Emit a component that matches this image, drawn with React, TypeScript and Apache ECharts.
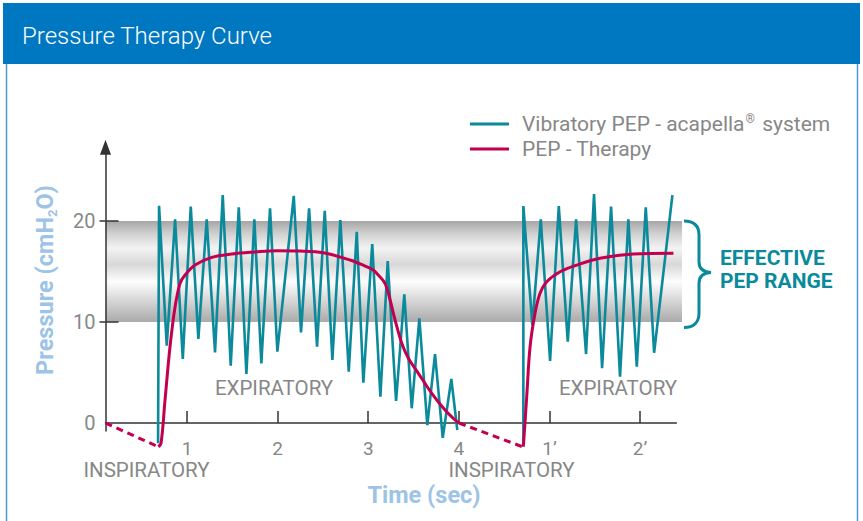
import React, { useEffect, useRef } from "react";
import * as echarts from "echarts";

const TEAL = "#0a8a9b";
const CRIMSON = "#c2004f";
const GRAY_TEXT = "#878787";
const AXIS_COLOR = "#333333";
const LIGHT_BLUE = "#9dc3e6";
const FONT = "Roboto, 'Noto Sans', sans-serif";

const TEAL_NAME = "Vibratory PEP - acapella® system";
const PEP_NAME = "PEP - Therapy";

const xTickValues = [1, 2, 3, 4, 5, 6];
const xTickLabels = ["1", "2", "3", "4", "1’", "2’"];
const yTickLabelValues = [0, 10, 20];
const yTickValues = [10, 20];
const effectiveRange = [10, 20];

const vibratoryCycle1: [number, number][] = [
  [0.68, -2.0], [0.691, 21.5], [0.776, 7.65], [0.868, 20.17], [0.953, 6.34],
  [1.041, 21.42], [1.125, 8.32], [1.217, 20.17], [1.309, 7.0], [1.394, 22.57],
  [1.482, 5.67], [1.571, 21.36], [1.655, 4.85], [1.743, 20.17], [1.82, 5.91],
  [1.916, 21.26], [1.997, 7.06], [2.178, 22.5], [2.258, 8.98], [2.347, 21.26],
  [2.435, 7.55], [2.52, 21.02], [2.604, 6.24], [2.692, 20.1], [2.785, 5.08],
  [2.873, 18.94], [2.946, 3.99], [3.044, 17.72], [3.134, 2.6], [3.215, 16.04],
  [3.307, 2.18], [3.398, 12.74], [3.48, 1.46], [3.564, 10.37], [3.652, -0.2],
  [3.737, 6.83], [3.822, -1.46], [3.917, 4.36], [3.983, -0.69],
];

const vibratoryCycle2: [number, number][] = [
  [4.712, -1.98], [4.712, 21.49], [4.811, 9.7], [4.904, 20.17], [5.007, 6.14],
  [5.103, 21.49], [5.202, 8.05], [5.294, 20.17], [5.404, 6.83], [5.492, 22.67],
  [5.581, 5.42], [5.68, 21.42], [5.779, 4.58], [5.871, 20.17], [5.964, 5.57],
  [6.063, 21.36], [6.155, 6.96], [6.357, 22.57],
];

const pepCycle1: [number, number][] = [
  [0.683, -2.35], [0.713, -2.0], [0.757, 2.28], [0.812, 7.55], [0.868, 11.51],
  [0.923, 13.83], [0.978, 14.65], [1.088, 15.64], [1.273, 16.4], [1.493, 16.73],
  [1.751, 16.93], [1.99, 17.06], [2.247, 17.03], [2.504, 16.86], [2.799, 16.14],
  [2.965, 15.54], [3.056, 15.15], [3.111, 14.65], [3.185, 13.83], [3.241, 12.18],
  [3.296, 10.2], [3.37, 7.89], [3.443, 6.41], [3.553, 4.92], [3.701, 2.94],
  [3.848, 1.29], [3.958, 0.3], [4.002, 0],
];

const pepCycle2: [number, number][] = [
  [4.712, -2.35], [4.749, 2.6], [4.786, 7.55], [4.841, 10.86], [4.896, 12.84],
  [4.97, 13.99], [5.117, 14.98], [5.301, 15.64], [5.558, 16.31], [5.926, 16.73],
  [6.368, 16.8],
];

const inspiratory1: [number, number][] = [[0.1, 0], [0.683, -2.35]];
const inspiratory2: [number, number][] = [[4.002, 0], [4.712, -2.38]];

const BRACE_PATH =
  "M0,0 C10,0 15,5 15,14 L15,41 C15,47 19,51 27,51.5 C19,52 15,56 15,62 L15,92 C15,101 10,106.5 0,106.5";

let braceRegistered = false;
function registerBrace() {
  if (braceRegistered) return;
  echarts.graphic.registerShape("brace", echarts.graphic.extendPath(BRACE_PATH, {}));
  braceRegistered = true;
}

const Y_MIN = -0.8;
const Y_MAX = 27.3;
const X_MIN = 0.1;
const X_MAX = 6.4;
const BAND_X_MAX = 6.46;

export default function App() {
  const ref = useRef<HTMLDivElement>(null);

  useEffect(() => {
    if (!ref.current) return;
    registerBrace();
    const chart = echarts.init(ref.current, undefined, { renderer: "svg" });

    const bandGradient = {
      type: "linear",
      x: 0,
      y: 0,
      x2: 0,
      y2: 1,
      colorStops: [
        { offset: 0, color: "#a6a6a6" },
        { offset: 0.13, color: "#d2d2d2" },
        { offset: 0.27, color: "#f3f3f3" },
        { offset: 0.43, color: "#d8d8d8" },
        { offset: 0.6, color: "#fdfdfd" },
        { offset: 0.8, color: "#d4d4d4" },
        { offset: 1, color: "#aaaaaa" },
      ],
    };

    const lineBase = {
      type: "line",
      showSymbol: false,
      symbol: "none",
      clip: false,
      xAxisIndex: 0,
      yAxisIndex: 0,
    };

    const phaseText = (text: string, x: number, y: number) => ({
      type: "text",
      z: 11,
      x,
      y,
      style: {
        text,
        fill: GRAY_TEXT,
        fontSize: 20.5,
        lineHeight: 20,
        fontFamily: FONT,
        align: "center",
        verticalAlign: "middle",
      },
    });

    const option: any = {
      animation: false,
      backgroundColor: "#ffffff",
      textStyle: { fontFamily: FONT },
      grid: [
        { left: 105.5, top: 147.3, width: 570.8, height: 283.8 },
        { left: 105.5, top: 147.3, width: 576.5, height: 283.8 },
      ],
      legend: {
        data: [TEAL_NAME, PEP_NAME],
        orient: "vertical",
        left: 470,
        top: 113,
        padding: 0,
        icon: "rect",
        itemWidth: 39,
        itemHeight: 3,
        itemGap: 4,
        selectedMode: false,
        formatter: (name: string) =>
          name === TEAL_NAME
            ? "{a|Vibratory PEP - acapella}{r|®}{a| system}"
            : "{a|" + name + "}",
        textStyle: {
          padding: [0, 0, 0, 8],
          rich: {
            a: { fontSize: 21, color: GRAY_TEXT, fontFamily: FONT, lineHeight: 20 },
            r: { fontSize: 12, color: GRAY_TEXT, fontFamily: FONT, padding: [0, 2, 10, 1] },
          },
        },
      },
      xAxis: [
        {
          type: "value",
          gridIndex: 0,
          min: X_MIN,
          max: X_MAX,
          z: 1,
          axisLine: { show: true, onZero: true, lineStyle: { color: AXIS_COLOR, width: 1.5 } },
          axisTick: {
            show: true,
            inside: true,
            length: 12,
            customValues: xTickValues,
            lineStyle: { color: AXIS_COLOR, width: 1.5 },
          },
          axisLabel: {
            customValues: xTickValues,
            formatter: (v: number) => xTickLabels[xTickValues.indexOf(Math.round(v))] ?? "",
            color: GRAY_TEXT,
            fontSize: 19,
            lineHeight: 17,
            fontFamily: FONT,
            margin: 9,
          },
          splitLine: { show: false },
        },
        { type: "value", gridIndex: 1, min: X_MIN, max: BAND_X_MAX, show: false },
      ],
      yAxis: [
        {
          type: "value",
          gridIndex: 0,
          position: "left",
          min: Y_MIN,
          max: Y_MAX,
          z: 1,
          axisLine: {
            show: true,
            onZero: false,
            symbol: ["none", "triangle"],
            symbolSize: [11, 15],
            lineStyle: { color: AXIS_COLOR, width: 1.5 },
          },
          axisTick: {
            show: true,
            inside: true,
            length: 13,
            customValues: yTickValues,
            lineStyle: { color: AXIS_COLOR, width: 1.5 },
          },
          axisLabel: {
            customValues: yTickLabelValues,
            color: GRAY_TEXT,
            fontSize: 20,
            fontFamily: FONT,
            margin: 10,
          },
          splitLine: { show: false },
        },
        {
          type: "value",
          gridIndex: 0,
          position: "left",
          min: Y_MIN,
          max: Y_MAX,
          z: 1,
          axisLine: { show: false, onZero: false },
          axisTick: {
            show: true,
            inside: false,
            length: 6,
            customValues: yTickValues,
            lineStyle: { color: AXIS_COLOR, width: 1.5 },
          },
          axisLabel: { show: false },
          splitLine: { show: false },
        },
        { type: "value", gridIndex: 1, min: Y_MIN, max: Y_MAX, show: false },
      ],
      series: [
        {
          type: "line",
          name: "band",
          xAxisIndex: 1,
          yAxisIndex: 2,
          data: [[X_MIN, effectiveRange[0]]],
          symbol: "none",
          lineStyle: { width: 0, opacity: 0 },
          silent: true,
          z: -1,
          markArea: {
            silent: true,
            itemStyle: { color: bandGradient },
            data: [[
              { xAxis: X_MIN, yAxis: effectiveRange[0] },
              { xAxis: BAND_X_MAX, yAxis: effectiveRange[1] },
            ]],
          },
        },
        {
          ...lineBase,
          name: TEAL_NAME,
          data: vibratoryCycle1,
          color: TEAL,
          lineStyle: { color: TEAL, width: 2.6, join: "miter" },
          z: 3,
        },
        {
          ...lineBase,
          name: TEAL_NAME,
          data: vibratoryCycle2,
          color: TEAL,
          lineStyle: { color: TEAL, width: 2.6, join: "miter" },
          z: 3,
        },
        {
          ...lineBase,
          name: PEP_NAME,
          data: pepCycle1,
          color: CRIMSON,
          smooth: 0.35,
          lineStyle: { color: CRIMSON, width: 3 },
          z: 4,
        },
        {
          ...lineBase,
          name: PEP_NAME,
          data: pepCycle2,
          color: CRIMSON,
          smooth: 0.35,
          lineStyle: { color: CRIMSON, width: 3 },
          z: 4,
        },
        {
          ...lineBase,
          name: "inspiratory-1",
          data: inspiratory1,
          color: CRIMSON,
          lineStyle: { color: CRIMSON, width: 3, type: [7, 5] },
          z: 4,
        },
        {
          ...lineBase,
          name: "inspiratory-2",
          data: inspiratory2,
          color: CRIMSON,
          lineStyle: { color: CRIMSON, width: 3, type: [7, 5] },
          z: 4,
        },
      ],
      graphic: [
        {
          type: "rect",
          z: -10,
          silent: true,
          shape: { x: 6.5, y: 63, width: 851, height: 470 },
          style: { fill: "#ffffff", stroke: "#4f9ad8", lineWidth: 1.5 },
        },
        {
          type: "rect",
          z: 10,
          silent: true,
          shape: { x: 3, y: 3, width: 857, height: 61 },
          style: { fill: "#0077c1" },
        },
        {
          type: "text",
          z: 11,
          x: 22,
          y: 36,
          style: {
            text: "Pressure Therapy Curve",
            fill: "#ffffff",
            fontSize: 24,
            fontWeight: 300,
            fontFamily: FONT,
            align: "left",
            verticalAlign: "middle",
          },
        },
        {
          type: "text",
          z: 11,
          x: 45,
          y: 280,
          rotation: Math.PI / 2,
          style: {
            text: "{a|Pressure (cmH}{s|2}{a|O)}",
            align: "center",
            verticalAlign: "middle",
            rich: {
              a: { fontSize: 23.5, fontWeight: "bold", fill: LIGHT_BLUE, fontFamily: FONT, lineHeight: 30 },
              s: { fontSize: 13, fontWeight: "bold", fill: LIGHT_BLUE, fontFamily: FONT, padding: [15, 0, 0, 0] },
            },
          },
        },
        {
          type: "text",
          z: 11,
          x: 424,
          y: 495,
          style: {
            text: "Time (sec)",
            fill: LIGHT_BLUE,
            fontSize: 23.5,
            fontWeight: "bold",
            fontFamily: FONT,
            align: "center",
            verticalAlign: "middle",
          },
        },
        phaseText("EXPIRATORY", 274, 388),
        phaseText("EXPIRATORY", 618, 388),
        phaseText("INSPIRATORY", 146.5, 470),
        phaseText("INSPIRATORY", 511.5, 470),
        {
          type: "brace",
          z: 11,
          x: 684,
          y: 221,
          silent: true,
          style: { stroke: TEAL, lineWidth: 3, fill: "none" },
        },
        {
          type: "text",
          z: 11,
          x: 720,
          y: 269.5,
          style: {
            text: "EFFECTIVE\nPEP RANGE",
            fill: TEAL,
            fontSize: 21,
            fontWeight: "bold",
            fontFamily: FONT,
            lineHeight: 23,
            align: "left",
            verticalAlign: "middle",
          },
        },
      ],
    };

    chart.setOption(option);
    return () => {
      chart.dispose();
    };
  }, []);

  return (
    <div
      ref={ref}
      style={{ position: "fixed", left: 0, top: 0, width: 863, height: 521 }}
    />
  );
}
